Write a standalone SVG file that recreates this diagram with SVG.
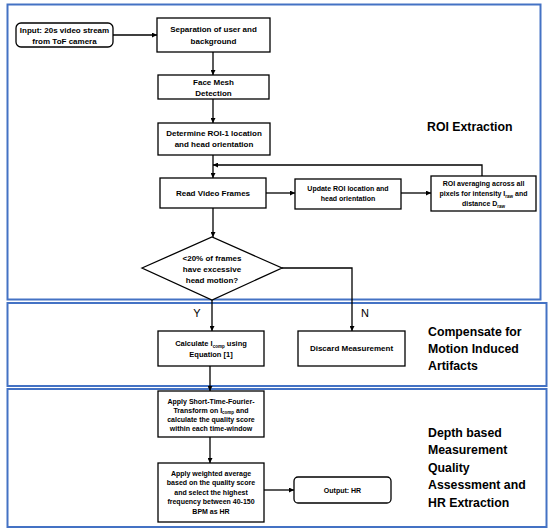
<svg xmlns="http://www.w3.org/2000/svg" width="550" height="532" viewBox="0 0 550 532">
<defs>
<marker id="ah" viewBox="0 0 10 10" refX="10" refY="5" markerWidth="5" markerHeight="5" orient="auto" markerUnits="userSpaceOnUse"><path d="M0,0 L10,5 L0,10 z" fill="#000"/></marker>
</defs>
<style>
.panel{fill:none;stroke:#4472C4;stroke-width:2}
.box{fill:#fff;stroke:#000;stroke-width:1.3}
.t{font-family:"Liberation Sans",Arial,sans-serif;font-weight:bold;fill:#000;text-anchor:middle}
.t8{font-size:8px}
.t7{font-size:7px}
.t75{font-size:7.5px}
.title{font-family:"Liberation Sans",Arial,sans-serif;font-weight:bold;font-size:12.3px;fill:#000}
.lbl{font-family:"Liberation Sans",Arial,sans-serif;font-size:11px;fill:#000;text-anchor:middle}
.c{fill:none;stroke:#000;stroke-width:1.3}
.sub{font-size:4.5px}
</style>
<rect width="550" height="532" fill="#fff"/>
<g id="panels">
<rect class="panel" x="7.5" y="4.5" width="533" height="295"/>
<rect class="panel" x="7.5" y="303" width="539" height="83"/>
<rect class="panel" x="7.5" y="389" width="539" height="138"/>
<text class="title" x="427" y="131">ROI Extraction</text>
<text class="title" x="428" y="336">Compensate for</text>
<text class="title" x="428" y="353">Motion Induced</text>
<text class="title" x="428" y="370">Artifacts</text>
<text class="title" x="428" y="437">Depth based</text>
<text class="title" x="428" y="454">Measurement</text>
<text class="title" x="428" y="472">Quality</text>
<text class="title" x="428" y="489">Assessment and</text>
<text class="title" x="428" y="507">HR Extraction</text>
</g>
<g id="connectors">
<line class="c" x1="113" y1="35" x2="157" y2="35" marker-end="url(#ah)"/>
<line class="c" x1="213" y1="52" x2="213" y2="75" marker-end="url(#ah)"/>
<line class="c" x1="213" y1="99" x2="213" y2="123" marker-end="url(#ah)"/>
<line class="c" x1="213" y1="155" x2="213" y2="178" marker-end="url(#ah)"/>
<line class="c" x1="266" y1="193" x2="295" y2="193" marker-end="url(#ah)"/>
<line class="c" x1="401" y1="193" x2="431" y2="193" marker-end="url(#ah)"/>
<polyline class="c" points="482,176 482,165 213,165" marker-end="url(#ah)"/>
<line class="c" x1="213" y1="208" x2="213" y2="237" marker-end="url(#ah)"/>
<line class="c" x1="212" y1="300" x2="212" y2="331" marker-end="url(#ah)"/>
<polyline class="c" points="282,268 352,268 352,331" marker-end="url(#ah)"/>
<line class="c" x1="210" y1="366" x2="210" y2="391" marker-end="url(#ah)"/>
<line class="c" x1="210" y1="437" x2="210" y2="463" marker-end="url(#ah)"/>
<line class="c" x1="264" y1="490" x2="294" y2="490" marker-end="url(#ah)"/>
<text class="lbl" x="197" y="317">Y</text>
<text class="lbl" x="365" y="317">N</text>
</g>
<g id="input">
<rect class="box" x="16" y="23" width="97" height="24" rx="5"/>
<text class="t t8" x="64.5" y="33">Input: 20s video stream</text>
<text class="t t8" x="64.5" y="44">from ToF camera</text>
</g>
<g id="separation">
<rect class="box" x="157" y="18" width="113" height="34"/>
<text class="t t8" x="213.5" y="32">Separation of user and</text>
<text class="t t8" x="213.5" y="44">background</text>
</g>
<g id="facemesh">
<rect class="box" x="158" y="75" width="111" height="24"/>
<text class="t t8" x="213.5" y="85">Face Mesh</text>
<text class="t t8" x="213.5" y="96">Detection</text>
</g>
<g id="determine">
<rect class="box" x="158" y="123" width="112" height="32"/>
<text class="t t8" x="214" y="136">Determine ROI-1 location</text>
<text class="t t8" x="214" y="147">and head orientation</text>
</g>
<g id="read">
<rect class="box" x="160" y="178" width="106" height="30"/>
<text class="t t8" x="213" y="196">Read Video Frames</text>
</g>
<g id="update">
<rect class="box" x="295" y="179" width="106" height="30"/>
<text class="t t7" x="348" y="191">Update ROI location and</text>
<text class="t t7" x="348" y="201">head orientation</text>
</g>
<g id="roiavg">
<rect class="box" x="431" y="176" width="105" height="35"/>
<text class="t t7" x="483.5" y="186">ROI averaging across all</text>
<text class="t t7" x="483.5" y="196">pixels for intensity I<tspan class="sub" dy="1.5">raw</tspan><tspan dy="-1.5"> and</tspan></text>
<text class="t t7" x="483.5" y="206">distance D<tspan class="sub" dy="1.5">raw</tspan></text>
</g>
<g id="decision">
<polygon class="box" points="142,268 212,237 282,268 212,300"/>
<text class="t t8" x="212" y="261">&lt;20% of frames</text>
<text class="t t8" x="212" y="272">have excessive</text>
<text class="t t8" x="212" y="282.5">head motion?</text>
</g>
<g id="calculate">
<rect class="box" x="158" y="331" width="106" height="35"/>
<text class="t t75" x="211" y="346">Calculate I<tspan class="sub" dy="1.5">comp</tspan><tspan dy="-1.5"> using</tspan></text>
<text class="t t75" x="211" y="356.5">Equation [1]</text>
</g>
<g id="discard">
<rect class="box" x="298" y="331" width="107" height="35"/>
<text class="t t8" x="351.5" y="351">Discard Measurement</text>
</g>
<g id="stft">
<rect class="box" x="158" y="391" width="106" height="46"/>
<text class="t t7" x="211" y="403.5">Apply Short-Time-Fourier-</text>
<text class="t t7" x="211" y="412.5">Transform on I<tspan class="sub" dy="1.5">comp</tspan><tspan dy="-1.5"> and</tspan></text>
<text class="t t7" x="211" y="421.5">calculate the quality score</text>
<text class="t t7" x="211" y="430.5">within each time-window</text>
</g>
<g id="weighted">
<rect class="box" x="158" y="463" width="106" height="59"/>
<text class="t t7" x="211" y="475.5">Apply weighted average</text>
<text class="t t7" x="211" y="485">based on the quality score</text>
<text class="t t7" x="211" y="494.5">and select the highest</text>
<text class="t t7" x="211" y="504">frequency between 40-150</text>
<text class="t t7" x="211" y="513.5">BPM as HR</text>
</g>
<g id="output">
<rect class="box" x="294" y="477" width="97" height="26" rx="4"/>
<text class="t t7" x="342.5" y="492.5">Output: HR</text>
</g>
</svg>
